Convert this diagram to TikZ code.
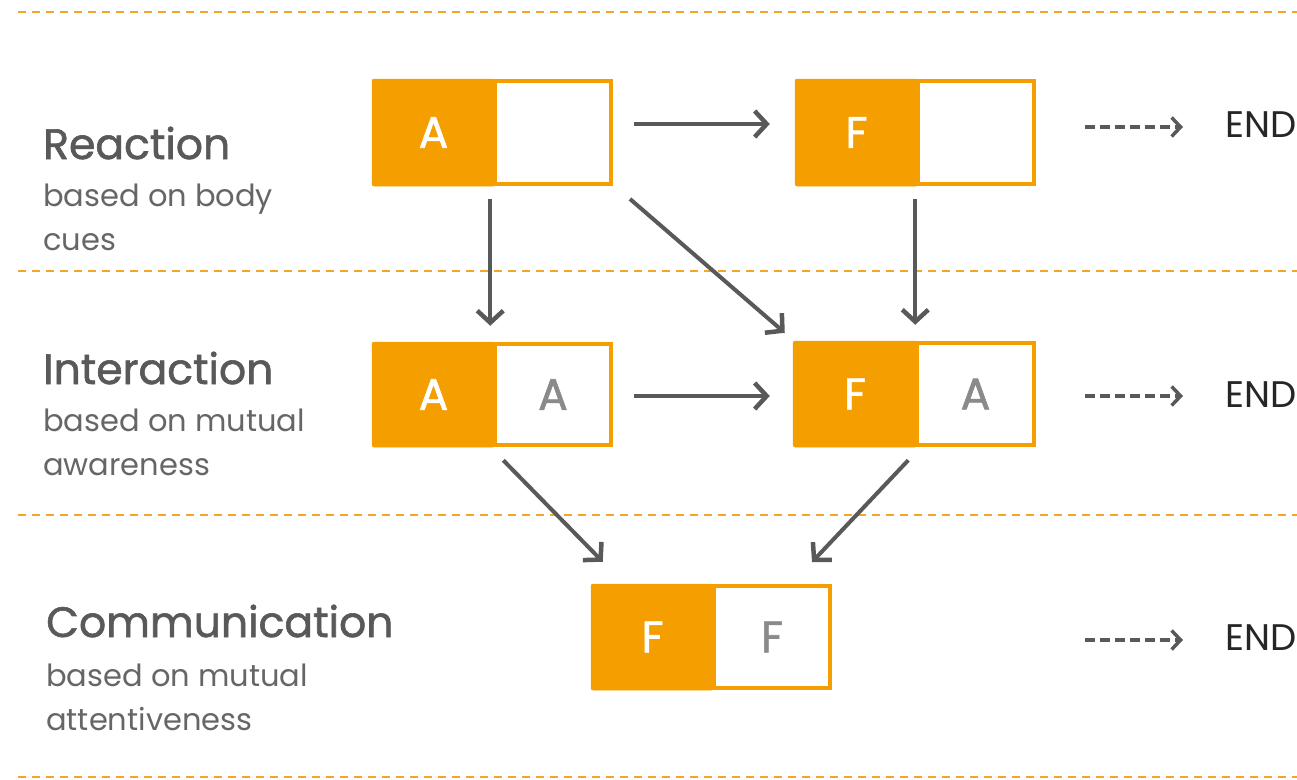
\documentclass[tikz,border=0pt]{standalone}
\usepackage{fontspec}
\setmainfont{Poppins}
\newfontfamily\heavyfont{Poppins}[FakeBold=1.4]
\usetikzlibrary{arrows.meta,calc}
\definecolor{orng}{HTML}{F59E00}
\definecolor{dashorng}{HTML}{F5A623}
\definecolor{arr}{HTML}{595959}
\definecolor{ttl}{HTML}{595959}
\definecolor{sub}{HTML}{666666}
\definecolor{lgray}{HTML}{8A8A8A}
\tikzset{
  lbox/.style={fill=orng, draw=orng, line width=0.5pt, rounded corners=2pt, minimum width=123pt, minimum height=107pt, inner sep=0pt, text=white, font=\heavyfont\fontsize{44}{44}\selectfont},
  rbox/.style={draw=orng, fill=white, line width=4pt, minimum width=116pt, minimum height=103pt, inner sep=0pt, text=lgray, font=\heavyfont\fontsize{44}{44}\selectfont},
  sep/.style={draw=dashorng, line width=2pt, dash pattern=on 8pt off 6pt},
  conn/.style={draw=arr, line width=4pt, -{Straight Barb[length=12pt,width=26pt,line width=4.5pt]}},
  endarr/.style={draw=arr, line width=3.5pt, dash pattern=on 10pt off 5pt, -{Straight Barb[length=9pt,width=19pt,line width=3.5pt]}},
  ttl/.style={anchor=base west, inner sep=0pt, text=ttl, font=\heavyfont\fontsize{42.5}{42.5}\selectfont},
  sub/.style={anchor=base west, inner sep=0pt, text=sub, font=\fontsize{30.5}{30.5}\selectfont},
  endt/.style={anchor=west, inner sep=0pt, text=black!85, font=\fontsize{37}{37}\selectfont},
}
\begin{document}
\begin{tikzpicture}[x=1pt,y=-1pt]
\useasboundingbox (0,0) rectangle (1297,779);
% separators
\foreach \yy in {12,271,515,777} \draw[sep] (18,\yy) -- (1297,\yy);
% boxes
\node[rbox] (a1r) at (553,132.5) {};
\node[lbox] (a1l) at (433.5,132.5) {A};
\node[rbox] (f1r) at (976,132.5) {};
\node[lbox] (f1l) at (856.5,132.5) {F};
\node[rbox, minimum height=101pt] (a2r) at (553,394.5) {A};
\node[lbox, minimum height=105pt] (a2l) at (433.5,394.5) {A};
\node[rbox, minimum width=117pt, minimum height=102pt] (f2r) at (975.5,394) {A};
\node[lbox, minimum width=124pt, minimum height=106pt] (f2l) at (855,394) {F};
\node[rbox, minimum height=102pt] (ffr) at (772,637) {F};
\node[lbox, minimum height=106pt] (ffl) at (652.5,637) {F};
% connectors
\draw[conn] ($(a1r.east)+(21,-8.5)$) -- ($(f1l.west)+(-25,-8.5)$);
\draw[conn] ($(a1l.south east)+(-5,13)$) -- ($(a2l.north east)+(-5,-16)$);
\draw[conn] ($(a1r.south east)+(17,13)$) -- ($(f2l.north west)+(-8,-8)$);
\draw[conn] ($(f1l.south east)+(-3,13)$) -- ($(f2l.north east)+(-2,-16)$);
\draw[conn] ($(a2r.east)+(21,1.5)$) -- ($(f2l.west)+(-23,2)$);
\draw[conn] ($(a2l.south east)+(8,13)$) -- ($(ffl.north west)+(12,-22)$);
\draw[conn] ($(f2l.south east)+(-9,13)$) -- ($(ffr.north east)+(-20,-22)$);
% END
\node[endt] (e1) at (1225,125) {END};
\node[endt] (e2) at (1225,395) {END};
\node[endt] (e3) at (1225,638) {END};
\draw[endarr] ($(e1.west)+(-140,2)$) -- ($(e1.west)+(-42,2)$);
\draw[endarr] ($(e2.west)+(-140,1)$) -- ($(e2.west)+(-42,1)$);
\draw[endarr] ($(e3.west)+(-140,2)$) -- ($(e3.west)+(-42,2)$);
% labels
\node[ttl] (t1) at (43,159) {Reaction};
\node[sub] (s1a) at (43,206) {based on body};
\node[sub] (s1b) at (43,250) {cues};
\node[ttl] (t2) at (43,384) {Interaction};
\node[sub] (s2a) at (43,431) {based on mutual};
\node[sub] (s2b) at (43,475) {awareness};
\node[ttl] (t3) at (46,637) {Communication};
\node[sub] (s3a) at (46,686) {based on mutual};
\node[sub] (s3b) at (46,730) {attentiveness};
\end{tikzpicture}
\end{document}
